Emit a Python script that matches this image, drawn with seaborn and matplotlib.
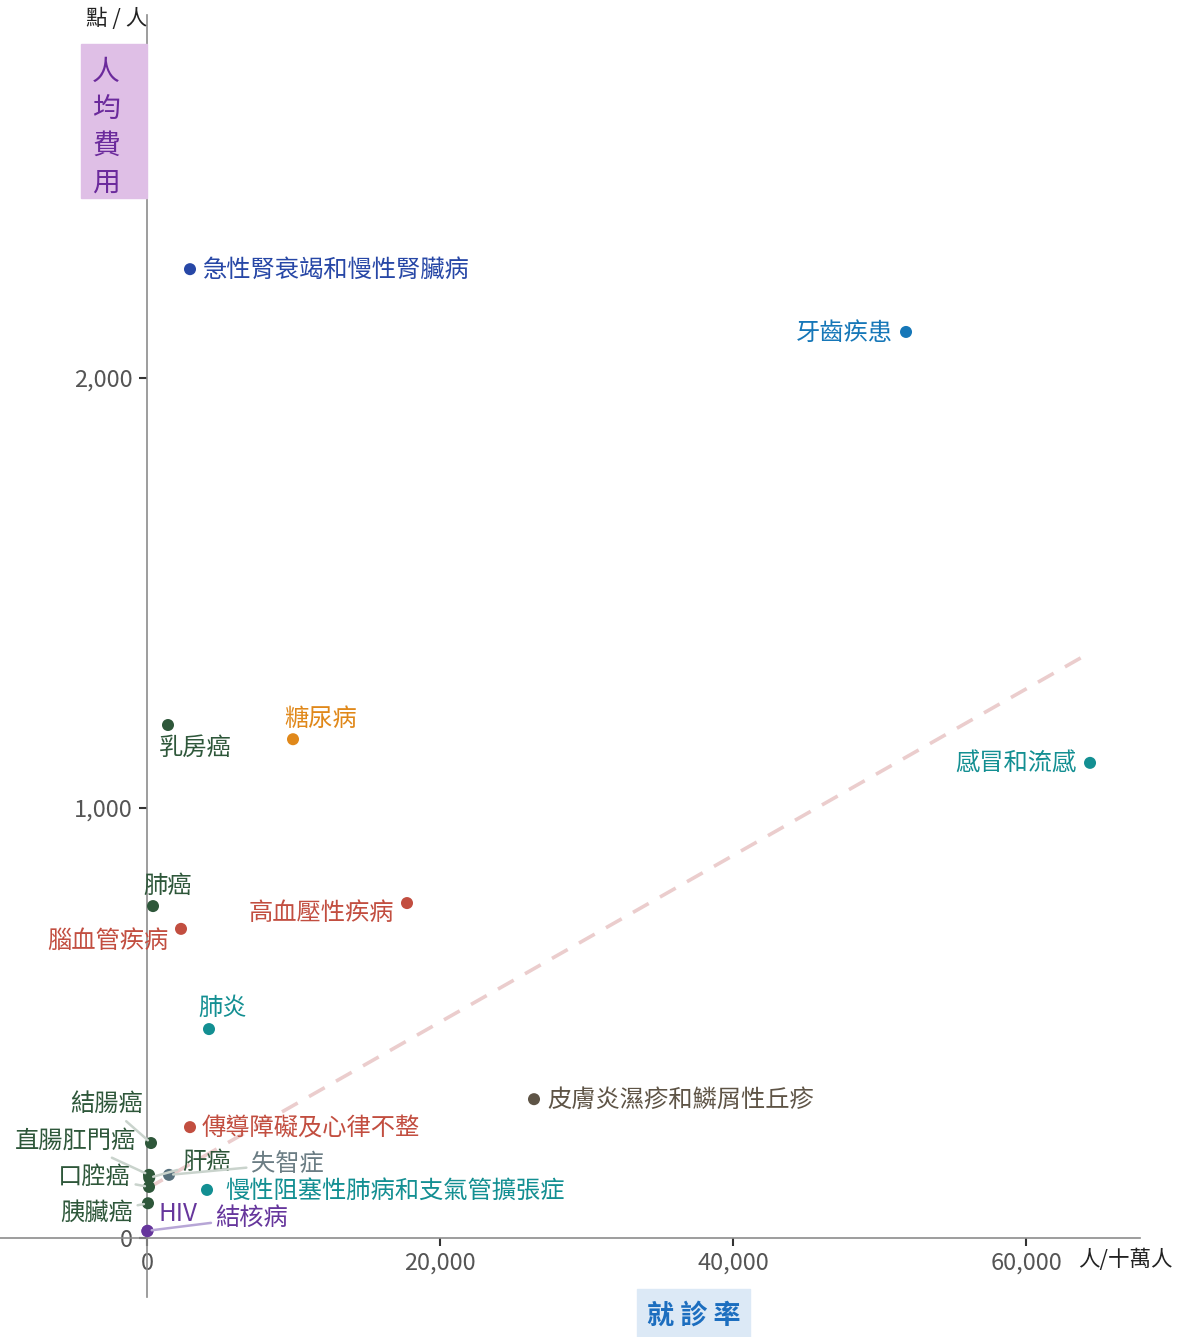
import matplotlib
matplotlib.use("Agg")
import matplotlib.pyplot as plt
from matplotlib.patches import Rectangle
import seaborn as sns
import pandas as pd

# 資料：就診率 (人/十萬人) 與 人均費用 (點/人)
diseases = ["急性腎衰竭和慢性腎臟病", "牙齒疾患", "糖尿病", "乳房癌", "感冒和流感",
            "肺癌", "高血壓性疾病", "腦血管疾病", "肺炎", "皮膚炎濕疹和鱗屑性丘疹",
            "傳導障礙及心律不整", "慢性阻塞性肺病和支氣管擴張症", "結腸癌", "直腸肛門癌",
            "肝癌", "口腔癌", "胰臟癌", "失智症", "HIV", "結核病"]
visit_rate = [2935, 51809, 9966, 1433, 64369,
              410, 17747, 2321, 4232, 26416,
              2935, 4096, 273, 137,
              150, 137, 68, 1502, 20, 40]
cost_per_person = [2253, 2107, 1160, 1193, 1105,
                   772, 779, 719, 486, 323,
                   258, 112, 221, 147,
                   140, 119, 81, 147, 16, 17]
groups = ["腎", "牙", "代謝", "癌", "呼吸",
          "癌", "心血管", "心血管", "呼吸", "皮膚",
          "心血管", "呼吸", "癌", "癌",
          "癌", "癌", "癌", "神經", "感染", "感染"]

# 趨勢虛線
trend_x = [0, 64400]
trend_y = [115, 1362]

palette = {"腎": "#2747a6", "牙": "#1677b8", "代謝": "#e0881a", "癌": "#2e573a",
           "呼吸": "#138f92", "心血管": "#c24e40", "皮膚": "#5e5446",
           "神經": "#56707c", "感染": "#66369c"}
label_colors = dict(palette)
label_colors["神經"] = "#6b7d84"

# 標籤位置（像素偏移, 對齊, 是否有引線）
label_pos = {
    "急性腎衰竭和慢性腎臟病": (13, -1, "left", False),
    "牙齒疾患": (-13, -1, "right", False),
    "糖尿病": (28, 20, "center", False),
    "乳房癌": (27, -23, "center", False),
    "感冒和流感": (-14, -1, "right", False),
    "肺癌": (15, 20, "center", False),
    "高血壓性疾病": (-13, -10, "right", False),
    "腦血管疾病": (-13, -12, "right", False),
    "肺炎": (14, 21, "center", False),
    "皮膚炎濕疹和鱗屑性丘疹": (13, -1, "left", False),
    "傳導障礙及心律不整": (12, -1, "left", False),
    "慢性阻塞性肺病和支氣管擴張症": (18, -1, "left", False),
    "結腸癌": (-8, 39, "right", True),
    "直腸肛門癌": (-13, 34, "right", True),
    "肝癌": (57, 16, "center", True),
    "口腔癌": (-18, 10, "right", True),
    "胰臟癌": (-15, -10, "right", True),
    "失智症": (82, 11, "left", True),
    "HIV": (11, 17, "left", False),
    "結核病": (68, 13, "left", True),
}

df = pd.DataFrame({"disease": diseases, "rate": visit_rate,
                   "cost": cost_per_person, "group": groups})

sns.set_style("white")
plt.rcParams["font.family"] = ["Noto Sans CJK TC", "DejaVu Sans"]

W, H = 1177, 1337
fig = plt.figure(figsize=(W / 100, H / 100), dpi=100)
ax = fig.add_axes([0, 1 - 1297 / H, 1140 / W, (1297 - 15) / H])

ax.plot(trend_x, trend_y, color="#ebcdcd", lw=2.6, linestyle=(0, (5, 3.6)), zorder=1)

sns.scatterplot(data=df, x="rate", y="cost", hue="group", palette=palette,
                s=75, edgecolor="none", legend=False, ax=ax, zorder=3)

for d, x, y, g in zip(diseases, visit_rate, cost_per_person, groups):
    dx, dy, ha, lead = label_pos[d]
    line_col = "#b7a6d6" if g == "感染" else "#c9d3cc"
    arrow = dict(arrowstyle="-", color=line_col, lw=1.8, shrinkA=1, shrinkB=3) if lead else None
    ax.annotate(d, xy=(x, y), xytext=(dx, dy), textcoords="offset pixels",
                ha=ha, va="center", fontsize=17.5, color=label_colors[g],
                arrowprops=arrow, zorder=4)

ax.set_xlim(-10034, 67780)
ax.set_ylim(-137, 2844)
for s in ["top", "right"]:
    ax.spines[s].set_visible(False)
for s in ["left", "bottom"]:
    ax.spines[s].set_position(("data", 0))
    ax.spines[s].set_color("#8c8c8c")
    ax.spines[s].set_linewidth(1.2)

ax.set_xticks([0, 20000, 40000, 60000])
ax.set_yticks([0, 1000, 2000])
ax.xaxis.set_major_formatter(matplotlib.ticker.StrMethodFormatter("{x:,.0f}"))
ax.yaxis.set_major_formatter(matplotlib.ticker.StrMethodFormatter("{x:,.0f}"))
ax.tick_params(axis="both", direction="out", length=6, width=1.5, color="#333333",
               labelsize=17, labelcolor="#555555", pad=4,
               bottom=True, left=True)
ax.set_xlabel("")
ax.set_ylabel("")

# 座標軸標題
fig.patches.append(Rectangle((81 / W, 1 - 198 / H), 66 / W, 154 / H,
                             transform=fig.transFigure, color="#dfbfe6", zorder=0))
for i, ch in enumerate("人均費用"):
    fig.text(106 / W, 1 - (72 + 37 * i) / H, ch, ha="center", va="center",
             fontsize=20, color="#6b2a9c")
fig.text(147 / W, 1 - 19 / H, "點 / 人", ha="right", va="center", fontsize=15.5, color="#222222")

fig.patches.append(Rectangle((637 / W, 0), 113 / W, 48 / H,
                             transform=fig.transFigure, color="#dce9f6", zorder=0))
fig.text(694 / W, 1 - 1316 / H, "就 診 率", ha="center", va="center",
         fontsize=19.5, color="#1c6ebf", fontweight="bold")
fig.text(1078 / W, 1 - 1260 / H, "人/十萬人", ha="left", va="center",
         fontsize=15.5, color="#222222")

fig.savefig("out.png", dpi=100)
